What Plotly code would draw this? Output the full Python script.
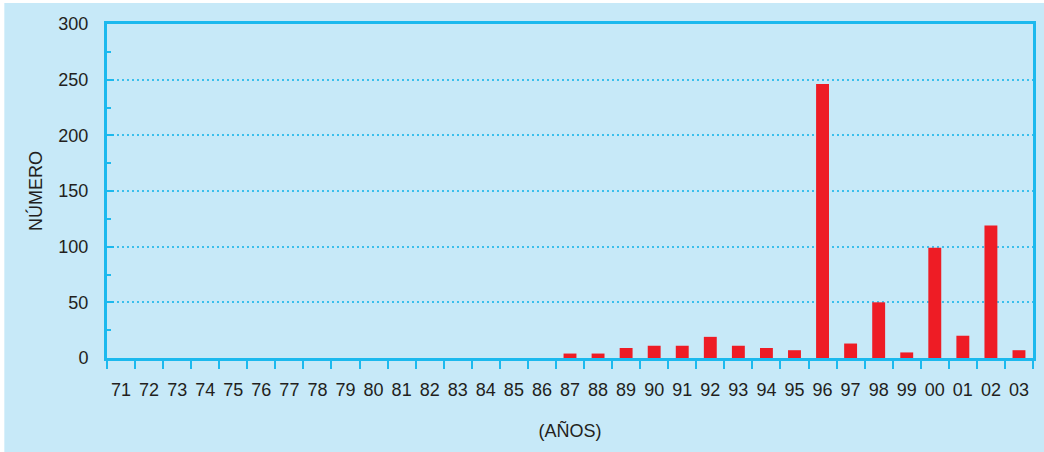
import plotly.graph_objects as go

years = ["71","72","73","74","75","76","77","78","79","80","81","82","83","84","85","86",
         "87","88","89","90","91","92","93","94","95","96","97","98","99","00","01","02","03"]
values = [0,0,0,0,0,0,0,0,0,0,0,0,0,0,0,0,
          4,4,9,11,11,19,11,9,7,246,13,50,5,99,20,119,7]
y_ticks = [0, 50, 100, 150, 200, 250, 300]

BG = "#c7e9f8"
AX = "#1cb9ee"
GRID = "#3bbfec"
TXT = "#231f20"

W, H = 1044, 452
L, R, T, B = 107, 8, 24, 94
PW, PH = W - L - R, H - T - B

fig = go.Figure()
fig.add_trace(go.Bar(x=years, y=values, marker=dict(color="#ee1c25", line=dict(width=0)), width=0.46))

fig.update_layout(
    width=W, height=H,
    margin=dict(l=L, r=R, t=T, b=B),
    paper_bgcolor="white", plot_bgcolor=BG,
    font=dict(family="Liberation Sans, Arial, sans-serif", size=18, color=TXT),
    showlegend=False,
    shapes=[dict(type="rect", xref="paper", yref="paper", layer="below",
                 x0=-(L - 4) / PW, x1=1 + (R + 5) / PW,
                 y0=-(B + 5) / PH, y1=1 + (T - 3) / PH,
                 fillcolor=BG, line=dict(width=0))],
)
fig.update_xaxes(
    type="category", categoryorder="array", categoryarray=years,
    showline=True, linecolor=AX, linewidth=3, mirror=True,
    ticks="outside", tickson="boundaries", ticklen=8, tickwidth=2, tickcolor=AX,
    showgrid=False, ticklabelstandoff=13, tickangle=0,
    tickfont=dict(size=18, color=TXT),
    title=dict(text="(AÑOS)", font=dict(size=18, color=TXT), standoff=26),
)
fig.update_yaxes(
    range=[0, 300], tickvals=y_ticks,
    showline=True, linecolor=AX, linewidth=3, mirror=True,
    ticks="inside", ticklen=7, tickwidth=2, tickcolor=AX,
    minor=dict(dtick=25, ticks="inside", ticklen=4, tickwidth=2, tickcolor=AX, showgrid=False),
    showgrid=True, gridcolor=GRID, gridwidth=2, griddash="2px,3px",
    zeroline=False, ticklabelstandoff=12,
    tickfont=dict(size=18, color=TXT),
    title=dict(text="NÚMERO", font=dict(size=18, color=TXT), standoff=12),
)
fig.write_html("out.html", config={"displayModeBar": False},
               post_script="document.body.style.margin='0';")
